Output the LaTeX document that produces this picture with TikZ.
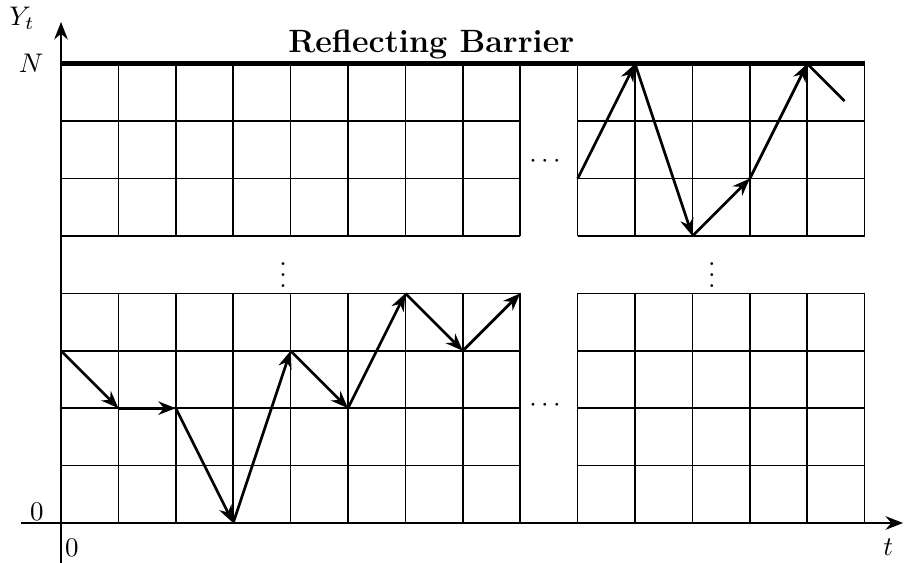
\documentclass[tikz,border=0pt]{standalone}
\usepackage{amsmath,amssymb}
\usetikzlibrary{arrows.meta}
\begin{document}
\begin{tikzpicture}[x=0.75cm,y=0.75cm]
\tikzset{cell/.style={line width=0.55pt},
  move/.style={line width=1pt,-{Stealth[length=6.5pt,width=5pt]}},
  axis/.style={line width=1pt,-{Stealth[length=6.5pt,width=5pt]}}}
\useasboundingbox (-1.063,-0.697) rectangle (14.686,9.111);

% the lattice, cut into four blocks by the gaps
\foreach \xa/\xb/\ya/\yb in {0/8/0/4, 0/8/5/8, 9/14/0/4, 9/14/5/8}
{
    \foreach \x in {\xa,...,\xb} \draw[cell] (\x,\ya) -- (\x,\yb);
    \foreach \y in {\ya,...,\yb} \draw[cell] (\xa,\y) -- (\xb,\y);
}
\node (hdotsup) at (8.47,6.3) {$\cdots$};
\node (hdotslow) at (8.47,2.04) {$\cdots$};
\node (vdotsleft) at (3.87,4.46) {$\vdots$};
\node (vdotsright) at (11.34,4.46) {$\vdots$};

% the barrier at level N
\draw[line width=2pt] (0,8) -- (14,8);
\node[font=\large\bfseries,anchor=base] (title) at (6.45,8.19) {Reflecting Barrier};

% axes
\coordinate (ybase) at (0,-0.7);
\coordinate (ytip) at (0,8.73);
\coordinate (tbase) at (-0.7,0);
\coordinate (ttip) at (14.67,0);
\draw[axis] (ybase) -- (ytip);
\draw[axis] (tbase) -- (ttip);
\node (ylab) at (-0.68,8.8) {$Y_t$};
\node (nlab) at (-0.52,8) {$N$};
\node (zeroy) at (-0.42,0.2) {$0$};
\node (zerot) at (0.19,-0.44) {$0$};
\node (tlab) at (14.41,-0.42) {$t$};

% the walk near 0
\foreach \i/\x/\y in {0/0/3,1/1/2,2/2/2,3/3/0,4/4/3,5/5/2,6/6/4,7/7/3,8/8/4}
    \coordinate (p\i) at (\x,\y);
\foreach \a/\b in {0/1,1/2,2/3,3/4,4/5,5/6,6/7,7/8}
    \draw[move] (p\a) -- (p\b);
% the walk near N, bouncing off the barrier
\foreach \i/\x/\y in {0/9/6,1/10/8,2/11/5,3/12/6,4/13/8,5/13.65/7.35}
    \coordinate (q\i) at (\x,\y);
\foreach \a/\b in {0/1,1/2,2/3,3/4}
    \draw[move] (q\a) -- (q\b);
\draw[line width=1pt] (q4) -- (q5);
\end{tikzpicture}
\end{document}
